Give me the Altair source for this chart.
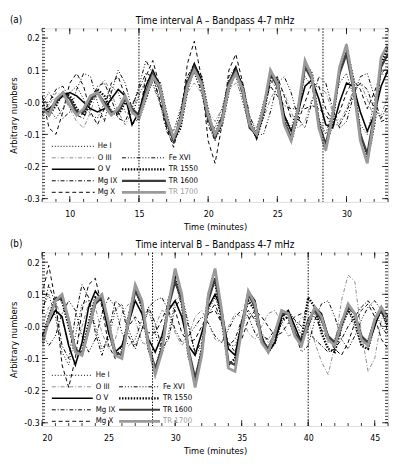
import altair as alt
import pandas as pd

SERIES = ["He I", "O III", "O V", "Mg IX", "Mg X", "Fe XVI", "TR 1550", "TR 1600", "TR 1700"]

# ---------------- Panel A : time (minutes) ----------------
TIME_A = [8.0, 8.5, 9.0, 9.5, 10.0, 10.5, 11.0, 11.5, 12.0, 12.5,
          13.0, 13.5, 14.0, 14.5, 15.0, 15.5, 16.0, 16.5, 17.0, 17.5,
          18.0, 18.5, 19.0, 19.5, 20.0, 20.5, 21.0, 21.5, 22.0, 22.5,
          23.0, 23.5, 24.0, 24.5, 25.0, 25.5, 26.0, 26.5, 27.0, 27.5,
          28.0, 28.5, 29.0, 29.5, 30.0, 30.5, 31.0, 31.5, 32.0, 32.5,
          33.0]

HE_I_A = [0.02, -0.02, -0.05, -0.02, 0.03, 0.05, 0.01, -0.04, -0.05, 0.00,
          0.05, 0.03, -0.03, -0.04, 0.02, 0.07, 0.06, 0.00, -0.07, -0.09,
          -0.02, 0.07, 0.09, 0.03, -0.06, -0.08, -0.02, 0.07, 0.08, 0.00,
          -0.08, -0.08, 0.00, 0.07, 0.04, -0.04, -0.08, -0.01, 0.08, 0.05,
          -0.05, -0.10, -0.02, 0.06, 0.09, 0.02, -0.07, -0.10, 0.00, 0.09,
          0.08]
O_III_A = [-0.05, -0.01, 0.03, 0.02, -0.02, -0.06, -0.08, -0.03, 0.04, 0.07,
           0.03, -0.03, -0.07, -0.03, 0.03, 0.06, 0.05, 0.00, -0.06, -0.09,
           -0.04, 0.03, 0.06, 0.03, -0.03, -0.06, -0.02, 0.04, 0.06, 0.02,
           -0.05, -0.08, -0.05, 0.01, 0.05, 0.03, -0.03, -0.08, -0.06, 0.01,
           0.05, 0.03, -0.03, -0.06, -0.02, 0.04, 0.06, 0.01, -0.05, -0.04,
           0.02]
O_V_A = [-0.03, -0.02, 0.00, 0.02, 0.03, 0.02, 0.00, -0.02, -0.03, -0.02,
         0.01, 0.04, 0.02, -0.07, -0.03, 0.05, 0.10, 0.05, -0.06, -0.12,
         -0.06, 0.06, 0.12, 0.07, -0.04, -0.11, -0.06, 0.06, 0.11, 0.04,
         -0.07, -0.11, -0.03, 0.09, 0.07, -0.04, -0.09, -0.03, 0.05, 0.07,
         0.01, -0.07, -0.08, 0.00, 0.06, 0.05, -0.03, -0.09, -0.04, 0.05,
         0.10]
MG_IX_A = [-0.04, 0.00, 0.04, 0.05, 0.01, -0.04, -0.05, 0.00, 0.05, 0.06,
           0.01, -0.05, -0.06, -0.01, 0.04, 0.09, 0.08, 0.01, -0.08, -0.12,
           -0.04, 0.08, 0.12, 0.05, -0.07, -0.12, -0.04, 0.08, 0.11, 0.02,
           -0.08, -0.09, -0.01, 0.05, 0.02, -0.01, -0.02, -0.02, -0.02, -0.01,
           -0.02, -0.04, -0.07, -0.07, -0.03, 0.03, 0.06, 0.04, -0.02, -0.05,
           -0.01]
MG_X_A = [0.02, -0.08, -0.10, -0.03, 0.06, 0.09, 0.05, -0.03, -0.07, -0.02,
          0.06, 0.08, 0.02, -0.07, -0.05, 0.08, 0.13, 0.05, -0.08, -0.14,
          -0.06, 0.12, 0.19, 0.08, -0.12, -0.19, -0.07, 0.10, 0.15, 0.06,
          -0.06, -0.10, -0.03, 0.06, 0.08, 0.02, -0.05, -0.06, 0.00, 0.06,
          0.05, -0.02, -0.06, -0.03, 0.03, 0.07, 0.04, -0.02, 0.03, 0.09,
          0.11]
FE_XVI_A = [0.00, 0.03, 0.00, -0.05, -0.03, 0.04, 0.09, 0.08, 0.00, -0.06,
            0.03, 0.10, 0.06, -0.02, 0.05, 0.13, 0.09, 0.00, -0.09, -0.13,
            -0.03, 0.08, 0.09, 0.04, -0.04, -0.09, -0.04, 0.05, 0.09, 0.06,
            -0.04, -0.10, -0.10, -0.03, 0.06, 0.08, 0.03, -0.05, -0.08, 0.00,
            0.08, 0.06, -0.02, -0.08, -0.06, 0.02, 0.08, 0.09, 0.02, -0.06,
            -0.05]
TR1550_A = [-0.01, -0.04, -0.01, 0.03, 0.02, -0.02, -0.04, 0.00, 0.04, 0.02,
            -0.03, -0.04, 0.00, -0.02, -0.05, 0.01, 0.08, 0.06, -0.04, -0.12,
            -0.08, 0.04, 0.11, 0.08, -0.03, -0.11, -0.07, 0.04, 0.10, 0.05,
            -0.06, -0.11, -0.04, 0.08, 0.07, -0.05, -0.12, -0.04, 0.12, 0.09,
            -0.06, -0.14, -0.06, 0.10, 0.17, 0.07, -0.10, -0.18, -0.07, 0.12,
            0.17]
TR1600_A = [-0.03, -0.03, 0.00, 0.03, 0.01, -0.03, -0.03, 0.01, 0.03, 0.00,
            -0.03, -0.03, 0.01, -0.02, -0.04, 0.03, 0.09, 0.04, -0.06, -0.12,
            -0.06, 0.06, 0.11, 0.06, -0.05, -0.11, -0.05, 0.06, 0.10, 0.03,
            -0.08, -0.10, -0.02, 0.09, 0.05, -0.06, -0.11, -0.02, 0.11, 0.07,
            -0.07, -0.13, -0.04, 0.09, 0.15, 0.04, -0.10, -0.16, -0.04, 0.11,
            0.15]
TR1700_A = [-0.02, -0.04, 0.01, 0.03, -0.01, -0.04, -0.02, 0.02, 0.03, -0.01,
            -0.04, -0.02, 0.02, -0.03, -0.05, 0.02, 0.08, 0.05, -0.05, -0.11,
            -0.06, 0.05, 0.10, 0.06, -0.04, -0.10, -0.06, 0.05, 0.09, 0.04,
            -0.07, -0.10, -0.02, 0.10, 0.06, -0.07, -0.12, -0.02, 0.13, 0.08,
            -0.08, -0.15, -0.04, 0.11, 0.18, 0.05, -0.12, -0.19, -0.05, 0.14,
            0.18]

# ---------------- Panel B ----------------
TIME_B = [20.0, 20.5, 21.0, 21.5, 22.0, 22.5, 23.0, 23.5, 24.0, 24.5,
          25.0, 25.5, 26.0, 26.5, 27.0, 27.5, 28.0, 28.5, 29.0, 29.5,
          30.0, 30.5, 31.0, 31.5, 32.0, 32.5, 33.0, 33.5, 34.0, 34.5,
          35.0, 35.5, 36.0, 36.5, 37.0, 37.5, 38.0, 38.5, 39.0, 39.5,
          40.0, 40.5, 41.0, 41.5, 42.0, 42.5, 43.0, 43.5, 44.0, 44.5,
          45.0, 45.5, 46.0]

HE_I_B = [0.05, 0.10, 0.03, -0.08, -0.12, -0.03, 0.07, 0.08, 0.00, -0.07,
          -0.04, 0.05, 0.07, -0.01, -0.06, -0.01, 0.05, -0.02, -0.09, -0.02,
          0.08, 0.10, 0.01, -0.09, -0.06, 0.05, 0.09, 0.03, -0.06, -0.06,
          0.00, 0.04, 0.03, -0.02, -0.05, -0.03, 0.02, 0.05, 0.02, -0.03,
          0.00, 0.04, 0.01, -0.05, -0.04, 0.02, 0.05, 0.00, -0.06, -0.04,
          0.03, 0.06, 0.01]
O_III_B = [0.00, 0.06, 0.08, 0.02, -0.05, -0.07, 0.00, 0.07, 0.06, -0.02,
           -0.07, -0.04, 0.04, 0.07, 0.02, -0.05, -0.06, 0.00, 0.05, 0.04,
           -0.02, -0.06, -0.03, 0.03, 0.05, 0.01, -0.04, -0.05, 0.00, 0.04,
           0.03, -0.02, -0.04, 0.00, 0.04, 0.05, 0.01, -0.03, -0.02, 0.03,
           0.02, -0.05, -0.11, -0.15, -0.06, 0.08, 0.16, 0.14, -0.02, -0.14,
           -0.10, 0.02, 0.07]
O_V_B = [-0.03, 0.01, 0.05, 0.03, -0.06, -0.12, -0.05, 0.06, 0.11, 0.08,
         -0.02, -0.08, -0.06, 0.01, 0.08, 0.04, -0.04, -0.08, -0.03, 0.05,
         0.08, 0.03, -0.06, -0.09, -0.02, 0.06, 0.10, 0.05, -0.07, -0.09,
         0.01, 0.11, 0.08, -0.03, -0.08, -0.05, 0.03, 0.05, 0.00, -0.05,
         0.00, 0.06, 0.04, -0.03, -0.06, 0.00, 0.06, 0.04, -0.03, -0.06,
         0.00, 0.06, 0.03]
MG_IX_B = [0.04, 0.13, 0.07, -0.06, -0.10, 0.03, 0.13, 0.09, -0.02, -0.09,
           -0.02, 0.08, 0.06, -0.03, -0.07, -0.01, 0.06, 0.01, -0.07, -0.04,
           0.06, 0.09, 0.00, -0.08, -0.05, 0.04, 0.07, 0.01, -0.06, -0.04,
           0.02, 0.05, 0.02, -0.03, -0.04, -0.01, 0.03, 0.04, 0.02, 0.00,
           -0.02, -0.04, -0.06, -0.08, -0.07, -0.04, 0.00, 0.03, 0.06, 0.08,
           0.05, 0.00, -0.03]
MG_X_B = [0.10, 0.19, 0.08, -0.12, -0.19, -0.10, 0.05, 0.13, 0.15, 0.06,
          -0.06, -0.10, -0.06, 0.00, 0.03, 0.00, -0.02, -0.02, 0.02, 0.07,
          0.05, -0.02, -0.05, -0.04, 0.00, 0.04, 0.05, 0.01, -0.05, -0.08,
          -0.04, 0.02, 0.05, 0.03, 0.00, -0.03, -0.02, 0.01, 0.03, 0.04,
          0.05, 0.03, -0.01, -0.04, -0.07, -0.09, -0.05, 0.01, 0.05, 0.07,
          0.03, -0.04, -0.07]
FE_XVI_B = [-0.02, -0.06, -0.03, 0.04, 0.08, 0.05, -0.03, -0.08, -0.04, 0.04,
            0.09, 0.06, -0.02, -0.06, -0.04, 0.02, 0.06, 0.08, 0.09, 0.05,
            -0.01, -0.05, -0.03, 0.00, 0.03, 0.01, -0.03, -0.05, -0.01, 0.03,
            0.05, 0.03, -0.02, -0.05, -0.06, -0.03, 0.01, 0.03, -0.02, -0.08,
            -0.06, 0.02, 0.07, 0.08, 0.03, -0.04, -0.07, -0.03, 0.02, 0.06,
            0.08, 0.05, -0.02]
TR1550_B = [-0.04, 0.03, 0.09, 0.08, 0.00, -0.08, -0.08, 0.01, 0.09, 0.08,
            -0.01, -0.09, -0.08, 0.03, 0.12, 0.06, -0.07, -0.14, -0.06, 0.08,
            0.15, 0.07, -0.09, -0.17, -0.07, 0.10, 0.14, 0.02, -0.12, -0.10,
            0.01, 0.08, 0.05, -0.04, -0.08, -0.05, 0.02, 0.03, -0.03, -0.04,
            0.09, 0.06, -0.02, -0.07, -0.08, 0.00, 0.05, 0.02, -0.06, -0.07,
            0.01, 0.05, 0.00]
TR1600_B = [-0.05, 0.02, 0.08, 0.09, 0.02, -0.07, -0.09, -0.01, 0.07, 0.09,
            0.01, -0.08, -0.09, 0.01, 0.11, 0.07, -0.06, -0.13, -0.07, 0.06,
            0.14, 0.08, -0.07, -0.16, -0.08, 0.08, 0.15, 0.04, -0.11, -0.12,
            -0.01, 0.10, 0.06, -0.04, -0.07, -0.02, 0.04, 0.04, -0.02, -0.05,
            0.02, 0.05, 0.02, -0.03, -0.05, 0.01, 0.06, 0.04, -0.03, -0.05,
            0.02, 0.05, 0.02]
TR1700_B = [-0.06, 0.02, 0.08, 0.10, 0.02, -0.08, -0.09, -0.01, 0.08, 0.10,
            0.01, -0.09, -0.10, 0.02, 0.13, 0.08, -0.06, -0.15, -0.08, 0.07,
            0.18, 0.10, -0.08, -0.19, -0.09, 0.10, 0.18, 0.05, -0.13, -0.14,
            -0.01, 0.11, 0.07, -0.05, -0.08, -0.02, 0.05, 0.04, -0.03, -0.06,
            0.01, 0.06, 0.03, -0.04, -0.06, 0.01, 0.07, 0.04, -0.04, -0.06,
            0.02, 0.06, 0.02]

DATA_A = dict(zip(SERIES, [HE_I_A, O_III_A, O_V_A, MG_IX_A, MG_X_A, FE_XVI_A, TR1550_A, TR1600_A, TR1700_A]))
DATA_B = dict(zip(SERIES, [HE_I_B, O_III_B, O_V_B, MG_IX_B, MG_X_B, FE_XVI_B, TR1550_B, TR1600_B, TR1700_B]))

VLINES_A = [15.0, 28.3]
VLINES_B = [28.3, 40.0]
Y_TICKS = [-0.3, -0.2, -0.1, 0.0, 0.1, 0.2]
X_TICKS_A = [10, 15, 20, 25, 30]
X_TICKS_B = [20, 25, 30, 35, 40, 45]
TITLE_A = "Time interval A \u2013 Bandpass 4-7 mHz"
TITLE_B = "Time interval B \u2013 Bandpass 4-7 mHz"

# ---------------- styling / layout ----------------
W, H = 355, 178
YDOM = [-0.31, 0.23]
FONT = "DejaVu Sans Condensed, Liberation Sans Narrow, Liberation Sans, sans-serif"

STYLES = {
    "He I": dict(color="black", strokeDash=[1, 2], strokeWidth=1),
    "O III": dict(color="#8a8a8a", strokeDash=[4, 2, 1, 2], strokeWidth=1),
    "O V": dict(color="black", strokeWidth=1.6),
    "Mg IX": dict(color="black", strokeDash=[4, 2, 1, 2], strokeWidth=1),
    "Mg X": dict(color="black", strokeDash=[4, 3], strokeWidth=1),
    "Fe XVI": dict(color="black", strokeDash=[4, 2, 1, 2, 1, 2, 1, 2], strokeWidth=1),
    "TR 1550": dict(color="black", strokeDash=[1.5, 1.5], strokeWidth=2.4),
    "TR 1600": dict(color="#3c3c3c", strokeWidth=2.2),
    "TR 1700": dict(color="#9a9a9a", strokeWidth=2.8),
}
LEG_POS = {  # (column, row)
    "He I": (0, 0), "O III": (0, 1), "O V": (0, 2), "Mg IX": (0, 3), "Mg X": (0, 4),
    "Fe XVI": (1, 1), "TR 1550": (1, 2), "TR 1600": (1, 3), "TR 1700": (1, 4),
}


def panel(times, data, xdom, xticks, vlines, title, tag, legcols, leg_y0):
    rows = []
    for name in SERIES:
        for t, v in zip(times, data[name]):
            rows.append({"t": t, "v": v, "s": name})
    df = pd.DataFrame(rows)

    xs = alt.Scale(domain=xdom, nice=False, zero=False)
    ys = alt.Scale(domain=YDOM, nice=False, zero=False)
    xaxis = alt.Axis(values=xticks, ticks=False, domain=False, grid=False, format="d",
                     labelFontSize=9, labelPadding=8, labelFont=FONT,
                     title="Time (minutes)", titleFontSize=9.5, titleFont=FONT,
                     titleFontWeight="normal", titlePadding=3)
    yaxis = alt.Axis(values=Y_TICKS, ticks=False, domain=False, grid=False,
                     labelExpr="(datum.value <= 0 ? '-' : '') + format(abs(datum.value), '.1f')",
                     labelFontSize=9, labelPadding=3, labelFont=FONT,
                     title="Arbitrary numbers", titleFontSize=9.5, titleFont=FONT,
                     titleFontWeight="normal", titlePadding=5)

    layers = []
    for name in SERIES:
        layers.append(
            alt.Chart(df).transform_filter(alt.datum.s == name)
            .mark_line(clip=True, **STYLES[name])
            .encode(x=alt.X("t:Q", scale=xs, axis=xaxis), y=alt.Y("v:Q", scale=ys, axis=yaxis))
        )

    # dotted vertical markers
    layers.append(
        alt.Chart(pd.DataFrame({"t": vlines})).mark_rule(color="black", strokeDash=[1.5, 1.5], strokeWidth=1)
        .encode(x=alt.X("t:Q", scale=xs, axis=xaxis))
    )

    # inward ticks on all four sides (major + minor)
    xmin_ticks = [float(k) for k in range(int(xdom[0]), int(xdom[1]) + 1)]
    ymin_ticks = [round(k * 0.01, 2) for k in range(-30, 24)]
    for vals, ln in ((xticks, 6), (xmin_ticks, 3)):
        d = pd.DataFrame({"t": vals})
        for y0, y1 in ((H, H - ln), (0, ln)):
            layers.append(alt.Chart(d).mark_rule(color="black", strokeWidth=0.8)
                          .encode(x=alt.X("t:Q", scale=xs, axis=xaxis), y=alt.value(y0), y2=alt.value(y1)))
    for vals, ln in ((Y_TICKS, 6), (ymin_ticks, 3)):
        d = pd.DataFrame({"v": vals})
        for x0, x1 in ((0, ln), (W, W - ln)):
            layers.append(alt.Chart(d).mark_rule(color="black", strokeWidth=0.8)
                          .encode(y=alt.Y("v:Q", scale=ys, axis=yaxis), x=alt.value(x0), x2=alt.value(x1)))

    # in-plot legend
    for name in SERIES:
        col, row = LEG_POS[name]
        lx0, lx1, tx = legcols[col]
        yy = leg_y0 + row * 11.8
        one = pd.DataFrame({"name": [name]})
        layers.append(alt.Chart(one).mark_rule(**STYLES[name])
                      .encode(x=alt.value(lx0), x2=alt.value(lx1), y=alt.value(yy)))
        layers.append(alt.Chart(one).mark_text(align="left", baseline="middle", fontSize=8, font=FONT,
                                               color="#9a9a9a" if name == "TR 1700" else "black")
                      .encode(x=alt.value(tx), y=alt.value(yy), text="name:N"))

    # panel tag and title as text marks
    layers.append(alt.Chart(pd.DataFrame({"tag": [tag]})).mark_text(align="left", baseline="middle",
                                                                     fontSize=10, font=FONT, color="black")
                  .encode(x=alt.value(-33), y=alt.value(-9), text="tag:N"))
    layers.append(alt.Chart(pd.DataFrame({"title": [title]})).mark_text(align="center", baseline="middle",
                                                                         fontSize=10, font=FONT, color="black")
                  .encode(x=alt.value(W / 2), y=alt.value(-8), text="title:N"))

    return alt.layer(*layers).properties(width=W, height=H)


pA = panel(TIME_A, DATA_A, [8, 33], X_TICKS_A, VLINES_A, TITLE_A, "(a)",
           [(10, 54, 57), (82, 127, 130)], 121)
pB = panel(TIME_B, DATA_B, [20, 46], X_TICKS_B, VLINES_B, TITLE_B, "(b)",
           [(10, 52, 55), (79, 121, 124)], 126)

chart = (
    alt.vconcat(pA, pB, spacing=7)
    .properties(padding={"left": 0, "top": 0, "right": 0, "bottom": 0})
    .configure_view(stroke="black", strokeWidth=1)
    .configure(background="white")
)

chart.save("out.html", embed_options={"renderer": "svg", "actions": False})
